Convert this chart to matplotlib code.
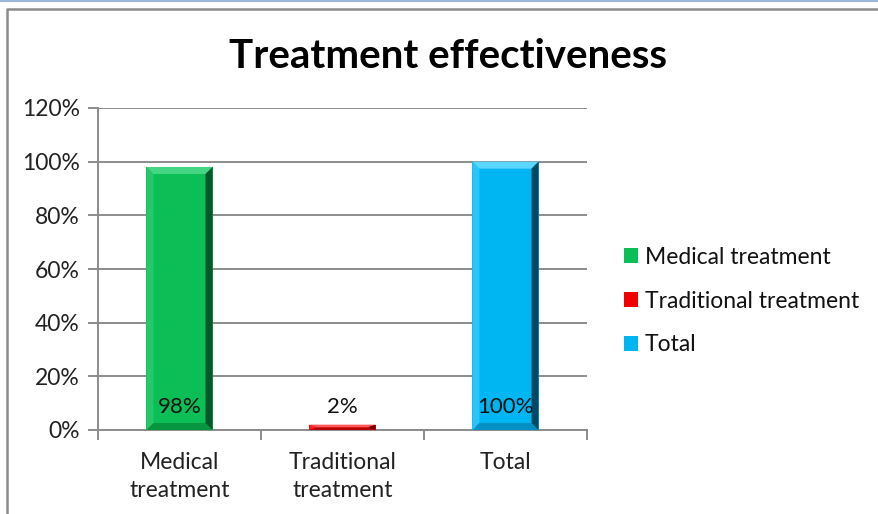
import matplotlib
matplotlib.use("Agg")
import matplotlib.pyplot as plt
from matplotlib.patches import Polygon
from matplotlib.lines import Line2D

categories = ["Medical\ntreatment", "Traditional\ntreatment", "Total"]
series_names = ["Medical treatment", "Traditional treatment", "Total"]
values = [98, 2, 100]
value_labels = ["98%", "2%", "100%"]
y_ticks = [0, 20, 40, 60, 80, 100, 120]

# base, light, dark, side shade colours for each bevelled bar
palette = [
    ("#0BBE55", "#45D683", "#04582A", "#25C96A", "#07953F"),
    ("#F00000", "#FF5A5A", "#6B0000", "#FF2020", "#B00000"),
    ("#00B6F2", "#5AD6FF", "#004A66", "#2CC4F7", "#0090C4"),
]

W, H = 879, 514
fig = plt.figure(figsize=(W / 100, H / 100), dpi=100)
plt.rcParams["font.family"] = ["Lato", "DejaVu Sans"]

ax_l, ax_r, ax_t, ax_b = 98, 587, 108, 430
ax = fig.add_axes([ax_l / W, 1 - ax_b / H, (ax_r - ax_l) / W, (ax_b - ax_t) / H])

x = list(range(len(values)))
bar_w = 0.405
ax.set_xlim(-0.5, len(values) - 0.5)
ax.set_ylim(0, 120)

bars = []
for i, v in enumerate(values):
    b = ax.bar(x[i], v, width=bar_w, color=palette[i][0], zorder=3,
               label=series_names[i], edgecolor="none")
    bars.append(b[0])

# bevel facets in data units derived from pixel sizes
px_x = (ax.get_xlim()[1] - ax.get_xlim()[0]) / (ax_r - ax_l)
px_y = (ax.get_ylim()[1] - ax.get_ylim()[0]) / (ax_b - ax_t)
bev = 7
for i, rect in enumerate(bars):
    x0, w = rect.get_x(), rect.get_width()
    h = rect.get_height()
    x1 = x0 + w
    dx = min(bev * px_x, w / 2)
    dy = min(bev * px_y, h / 2)
    base, light, dark, side, low = palette[i]
    top = Polygon([(x0, h), (x1, h), (x1 - dx, h - dy), (x0 + dx, h - dy)],
                  closed=True, color=light, zorder=4, lw=0)
    right = Polygon([(x1, h), (x1, 0), (x1 - dx, dy), (x1 - dx, h - dy)],
                    closed=True, color=dark, zorder=4, lw=0)
    left = Polygon([(x0, h), (x0, 0), (x0 + dx, dy), (x0 + dx, h - dy)],
                   closed=True, color=side, zorder=4, lw=0)
    bottom = Polygon([(x0, 0), (x1, 0), (x1 - dx, dy), (x0 + dx, dy)],
                     closed=True, color=low, zorder=4, lw=0)
    for p in (left, bottom, top, right):
        ax.add_patch(p)

FS = 16.5

# value labels near the base
for i, v in enumerate(values):
    ax.text(x[i], 8.5, value_labels[i], ha="center", va="center",
            fontsize=16, color="#111111", zorder=6)

grid_c = "#8C8C8C"
ax.set_yticks(y_ticks)
ax.set_yticklabels([f"{t}%" for t in y_ticks])
ax.yaxis.grid(True, color=grid_c, lw=1.4, zorder=0)
ax.set_axisbelow(True)

ax.set_xticks([-0.5, 0.5, 1.5, 2.5])
ax.set_xticklabels([])
ax.set_xticks(x, minor=True)
ax.set_xticklabels(categories, minor=True, fontsize=FS, color="#222222",
                   linespacing=1.42)
ax.tick_params(axis="x", which="minor", length=0, pad=16)
ax.tick_params(axis="x", which="major", length=7, width=1.4, color=grid_c,
               direction="out")
ax.tick_params(axis="y", length=7, width=1.4, color=grid_c, direction="out",
               labelsize=FS, labelcolor="#222222", pad=6)

for s in ("top", "right"):
    ax.spines[s].set_visible(False)
for s in ("left", "bottom"):
    ax.spines[s].set_color(grid_c)
    ax.spines[s].set_linewidth(1.4)

fig.text(448 / W, 1 - 56 / H, "Treatment effectiveness", ha="center",
         va="center", fontsize=29, fontweight="bold", color="#000000")

leg = ax.legend(loc="center left", bbox_to_anchor=(613 / W, 1 - 301 / H),
                bbox_transform=fig.transFigure, frameon=False, fontsize=FS,
                handlelength=0.6, handleheight=0.6, handletextpad=0.3,
                labelspacing=1.0, borderpad=0)
for t in leg.get_texts():
    t.set_color("#111111")

# chart frame
fig.add_artist(Line2D([0, 1], [1 - 0.5 / H, 1 - 0.5 / H], color="#9DB5D6", lw=1.5))
fig.add_artist(Line2D([7 / W, 7 / W, 1], [0, 1 - 9 / H, 1 - 9 / H],
                      color="#8C8C8C", lw=1.8))

fig.savefig("out.png", dpi=100)
